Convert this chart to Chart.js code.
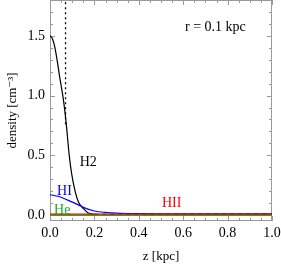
<!DOCTYPE html>
<html>
<head>
<meta charset="utf-8">
<script src="https://cdn.jsdelivr.net/npm/chart.js@4"></script>
<style>
  html, body { margin: 0; padding: 0; background: #fff; }
  #c { display: block; }
</style>
</head>
<body>
<canvas id="c" width="281" height="264"></canvas>
<script>
// z in kpc, densities in cm^-3
var zH2 = [0, 0.01, 0.02, 0.03, 0.045, 0.06, 0.07, 0.075, 0.086, 0.098, 0.113, 0.128, 0.15, 0.17, 0.2];
var h2 = [1.5, 1.48, 1.42, 1.32, 1.14, 0.97, 0.82, 0.73, 0.51, 0.34, 0.2, 0.11, 0.055, 0.02, 0.004];

var zHI = [0, 0.04, 0.08, 0.13, 0.15, 0.2, 0.25, 0.3, 0.4, 0.6, 1.0];
var hi = [0.17, 0.155, 0.125, 0.083, 0.064, 0.034, 0.022, 0.016, 0.011, 0.009, 0.009];

var zHII = [0, 0.25, 0.5, 0.75, 1.0];
var hii = [0.008, 0.008, 0.008, 0.008, 0.008];

var zHe = [0, 0.25, 0.5, 0.75, 1.0];
var he = [-0.002, -0.002, -0.002, -0.002, -0.002];

var zTot = [0.2, 0.5, 1.0];
var tot = [0.007, 0.007, 0.007];

var zDot = [0.07, 0.07];
var dotY = [0.76, 1.8];

var xTicks = [0, 0.2, 0.4, 0.6, 0.8, 1.0];
var yTicks = [0, 0.5, 1.0, 1.5];

var curveLabels = [
    { text: 'H2', x: 0.172, y: 0.44, color: '#000' },
    { text: 'HI', x: 0.065, y: 0.2, color: '#0000ff' },
    { text: 'He', x: 0.055, y: 0.04, color: '#22aa22' },
    { text: 'HII', x: 0.548, y: 0.095, color: '#ff0000' }
];

function pts(xs, ys) {
    return xs.map(function(x, i) { return { x: x, y: ys[i] }; });
}

Chart.defaults.font.family = "'Liberation Serif', 'DejaVu Serif', serif";
Chart.defaults.color = '#000';

var frameColor = '#9a9a9a';

var framePlugin = {
    id: 'frame',
    beforeDatasetsDraw: function(chart) {
        var ctx = chart.ctx;
        var a = chart.chartArea;
        var xs = chart.scales.x, ys = chart.scales.y;
        ctx.save();
        ctx.strokeStyle = frameColor;
        ctx.lineWidth = 1;
        ctx.strokeRect(a.left + 0.5, a.top + 0.5, a.right - a.left - 1, a.bottom - a.top - 1);
        ctx.beginPath();
        var v, p, len;
        for (var i = 0; i <= 20; i++) {
            v = i * 0.05;
            p = Math.round(xs.getPixelForValue(v)) + 0.5;
            len = (i % 4 === 0) ? 5 : 3;
            ctx.moveTo(p, a.bottom); ctx.lineTo(p, a.bottom - len);
            ctx.moveTo(p, a.top); ctx.lineTo(p, a.top + len);
        }
        for (var j = 0; j <= 18; j++) {
            v = j * 0.1;
            p = Math.round(ys.getPixelForValue(v)) + 0.5;
            len = (j % 5 === 0) ? 5 : 3;
            ctx.moveTo(a.left, p); ctx.lineTo(a.left + len, p);
            ctx.moveTo(a.right, p); ctx.lineTo(a.right - len, p);
        }
        ctx.stroke();
        ctx.restore();
    },
    afterDatasetsDraw: function(chart) {
        var ctx = chart.ctx;
        var xs = chart.scales.x, ys = chart.scales.y;
        ctx.save();
        ctx.font = "14px 'Liberation Serif'";
        ctx.textAlign = 'center';
        ctx.textBaseline = 'middle';
        curveLabels.forEach(function(l) {
            ctx.fillStyle = l.color;
            ctx.fillText(l.text, xs.getPixelForValue(l.x), ys.getPixelForValue(l.y));
        });
        ctx.fillStyle = '#000';
        ctx.font = "14px 'Liberation Serif'";
        ctx.fillText('r = 0.1 kpc', xs.getPixelForValue(0.745), ys.getPixelForValue(1.57));
        ctx.restore();
    }
};

new Chart(document.getElementById('c').getContext('2d'), {
    type: 'line',
    data: {
        datasets: [{
            label: 'HII',
            data: pts(zHII, hii),
            borderColor: '#ff0000',
            borderWidth: 1.3
        }, {
            label: 'He',
            data: pts(zHe, he),
            borderColor: '#22aa22',
            borderWidth: 1.3
        }, {
            label: 'total',
            data: pts(zTot, tot),
            borderColor: '#000',
            borderWidth: 1,
            borderDash: [4, 4]
        }, {
            label: 'HI',
            data: pts(zHI, hi),
            borderColor: '#0000ff',
            borderWidth: 1.2,
            cubicInterpolationMode: 'monotone'
        }, {
            label: 'H2',
            data: pts(zH2, h2),
            borderColor: '#000',
            borderWidth: 1.2,
            cubicInterpolationMode: 'monotone'
        }, {
            label: 'cut',
            data: pts(zDot, dotY),
            borderColor: '#000',
            borderWidth: 1.3,
            borderDash: [2, 3]
        }]
    },
    options: {
        responsive: false,
        animation: false,
        layout: { padding: { top: 0, right: 9, left: 0, bottom: 0 } },
        elements: { point: { radius: 0 } },
        plugins: {
            legend: { display: false },
            tooltip: { enabled: false }
        },
        scales: {
            x: {
                type: 'linear',
                min: 0,
                max: 1,
                afterBuildTicks: function(scale) {
                    scale.ticks = xTicks.map(function(v) { return { value: v }; });
                },
                afterFit: function(scale) {
                    scale.height = 43;
                    scale.paddingLeft = 0;
                    scale.paddingRight = 0;
                },
                grid: { display: false, drawTicks: false },
                border: { display: false },
                ticks: {
                    padding: 4,
                    maxRotation: 0,
                    font: { size: 14 },
                    callback: function(v) { return Number(v).toFixed(1); }
                },
                title: {
                    display: true,
                    text: 'z [kpc]',
                    font: { size: 13 },
                    padding: { top: 2, bottom: 0 }
                }
            },
            y: {
                type: 'linear',
                min: -0.05,
                max: 1.8,
                afterBuildTicks: function(scale) {
                    scale.ticks = yTicks.map(function(v) { return { value: v }; });
                },
                afterFit: function(scale) {
                    scale.width = 50;
                    scale.paddingTop = 0;
                    scale.paddingBottom = 0;
                },
                grid: { display: false, drawTicks: false },
                border: { display: false },
                ticks: {
                    padding: 5,
                    font: { size: 14 },
                    callback: function(v) { return Number(v).toFixed(1); }
                },
                title: {
                    display: true,
                    text: 'density [cm\u207B\u00B3]',
                    font: { size: 13 },
                    padding: { top: 5, bottom: 2 }
                }
            }
        }
    },
    plugins: [framePlugin]
});
</script>
</body>
</html>
